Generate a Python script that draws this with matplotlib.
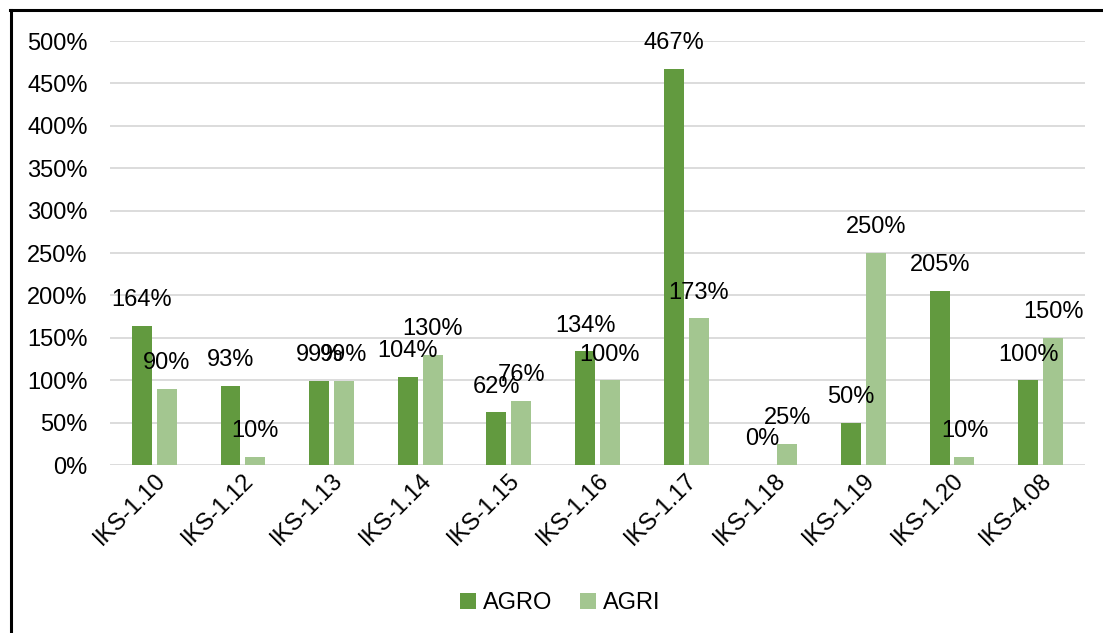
import matplotlib
matplotlib.use("Agg")
import matplotlib.pyplot as plt
from matplotlib.lines import Line2D
import numpy as np

categories = ["IKS-1.10", "IKS-1.12", "IKS-1.13", "IKS-1.14", "IKS-1.15", "IKS-1.16",
              "IKS-1.17", "IKS-1.18", "IKS-1.19", "IKS-1.20", "IKS-4.08"]
agro = [164, 93, 99, 104, 62, 134, 467, 0, 50, 205, 100]
agri = [90, 10, 99, 130, 76, 100, 173, 25, 250, 10, 150]
yticks = [0, 50, 100, 150, 200, 250, 300, 350, 400, 450, 500]

plt.rcParams['font.family'] = ['Liberation Sans', 'DejaVu Sans']
fig = plt.figure(figsize=(11.03, 6.33), dpi=100)
ax = fig.add_axes([0.0997, 0.2654, 0.884, 0.6698])

x = np.arange(len(categories))
w = 0.225
off = 0.14
c1, c2 = "#629A3F", "#A3C690"
fs = 17
b1 = ax.bar(x - off, agro, w, color=c1, label="AGRO", zorder=3)
b2 = ax.bar(x + off, agri, w, color=c2, label="AGRI", zorder=3)

for bars, vals in ((b1, agro), (b2, agri)):
    for r, v in zip(bars, vals):
        ax.annotate(f"{v}%", (r.get_x() + r.get_width() / 2, v), xytext=(0, 18.5),
                    textcoords="offset points", ha="center", va="center",
                    fontsize=fs, color="#000000", zorder=5)

ax.set_xlim(-0.5, len(categories) - 0.5)
ax.set_ylim(0, 500)
ax.set_yticks(yticks)
ax.set_yticklabels([f"{t}%" for t in yticks], fontsize=fs)
ax.set_xticks(x)
ax.set_xticklabels(categories, rotation=45, ha="right", rotation_mode="anchor", fontsize=fs)
ax.tick_params(axis="both", length=0)
ax.tick_params(axis="y", pad=16)
ax.tick_params(axis="x", pad=3)
ax.grid(axis="y", color="#d9d9d9", linewidth=1.3, zorder=0)
for s in ax.spines.values():
    s.set_visible(False)

fig.legend(handles=[b1, b2], labels=["AGRO", "AGRI"], loc="center", bbox_to_anchor=(0.508, 0.047),
           ncol=2, frameon=False, fontsize=fs, handlelength=0.65, handleheight=0.65,
           handletextpad=0.3, columnspacing=1.2)

fig.add_artist(Line2D([0.0100, 0.0100], [0.0, 0.984], transform=fig.transFigure, color="black", linewidth=2.2))
fig.add_artist(Line2D([0.0091, 1.0], [0.984, 0.984], transform=fig.transFigure, color="black", linewidth=2.2))

fig.savefig("out.png", dpi=100)
